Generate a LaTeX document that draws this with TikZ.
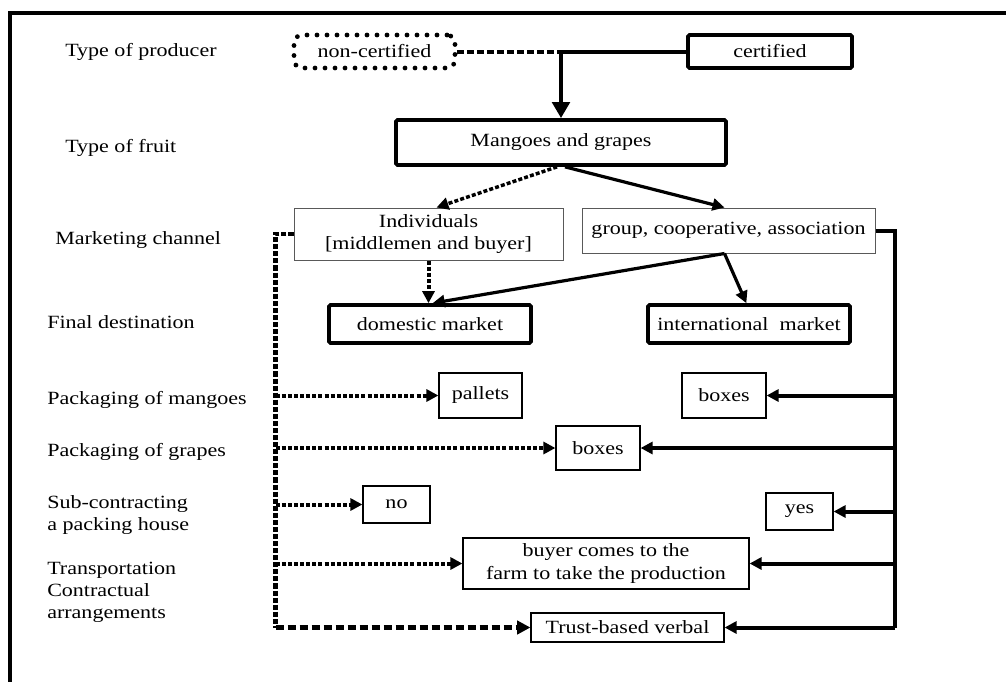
\documentclass[tikz,border=0pt]{standalone}
\usepackage{fontspec}
\setmainfont{Liberation Serif}[FakeStretch=1.18]
\usetikzlibrary{arrows.meta}

\begin{document}
\begin{tikzpicture}
  [x=0.75pt,y=-0.75pt,every node/.style={font=\fontsize{14}{17}\selectfont,inner sep=0pt}]
  \tikzstyle{tag} = [anchor=west,align=left]
  \tikzstyle{thin} = [draw,line width=0.9pt,align=center]
  \tikzstyle{pale} = [draw=black!65,line width=0.75pt,align=center]
  \tikzstyle{heavy} = [draw,line width=2.8pt,rounded corners=1.2pt]
  \tikzstyle{dotbox} = [draw,line width=3.6pt,line cap=round,dash pattern=on 0pt off 7.5pt,rounded corners=6pt]
  \tikzstyle{solidarrow} = [line width=3pt,-{Triangle[length=9pt,width=9pt]}]
  \tikzstyle{dotarrow} = [line width=3pt,dash pattern=on 3pt off 1.6pt,-{Triangle[length=9pt,width=9pt]}]
  \useasboundingbox (0,0) rectangle (1006,682);
  \draw[line width=2.3pt] (1006,13) -- (10,13) -- (10,682);

  % row labels
  \node[tag] (lprod)  at (65,52)  {Type of producer};
  \node[tag] (lfruit) at (65,148) {Type of fruit};
  \node[tag] (lchan)  at (55,240) {Marketing channel};
  \node[tag] (ldest)  at (47,322) {Final destination};
  \node[tag] (lmango) at (47,400) {Packaging of mangoes};
  \node[tag] (lgrape) at (47,452) {Packaging of grapes};
  \node[tag] (lsub)   at (47,515) {Sub-contracting\\a packing house};
  \node[tag] (ltrans) at (47,570) {Transportation};
  \node[tag] (lcontr) at (47,603) {Contractual\\arrangements};

  % boxes
  \node[dotbox,minimum width=120.75pt,minimum height=24.75pt] (noncert) at (374.5,51.5) {non-certified};
  \node[heavy,minimum width=123pt,minimum height=24.75pt] (cert) at (770,51.5) {certified};
  \node[heavy,minimum width=247.5pt,minimum height=33.75pt] (fruit) at (561,142.5) {Mangoes and grapes};
  \node[pale,minimum width=201.75pt,minimum height=39pt] (indiv) at (428.5,234) {Individuals\\{[middlemen and buyer]}};
  \node[pale,minimum width=219.75pt,minimum height=33.75pt] (group) at (728.5,230.5) {group, cooperative, association};
  \node[heavy,minimum width=151.5pt,minimum height=28.5pt] (domestic) at (430,324) {domestic market};
  \node[heavy,minimum width=151.5pt,minimum height=28.5pt] (intl) at (749,324) {international\ \ market};
  \node[thin,minimum width=62.25pt,minimum height=33.75pt] (pallets) at (480.5,395.5) {pallets};
  \node[thin,minimum width=63pt,minimum height=33.75pt] (boxesM) at (724,395.5) {boxes};
  \node[thin,minimum width=63pt,minimum height=33pt] (boxesG) at (598,448) {boxes};
  \node[thin,minimum width=50.25pt,minimum height=27.75pt] (no) at (396.5,504.5) {no};
  \node[thin,minimum width=50.25pt,minimum height=27.75pt] (yes) at (799.5,511.5) {yes};
  \node[thin,minimum width=214.5pt,minimum height=38.25pt] (buyer) at (606,563.5) {buyer comes to the\\farm to take the production};
  \node[thin,minimum width=144.75pt,minimum height=21.75pt] (trust) at (627.5,627.5) {Trust-based verbal};

  % producer to fruit
  \draw[line width=3pt,dash pattern=on 5pt off 2.5pt] (noncert.east) -- (noncert.east -| fruit.north);
  \draw[line width=3pt,-{Triangle[length=12pt,width=13pt]}] (cert.west) -| (fruit.north);

  % fruit to channels and markets
  \draw[dotarrow,line width=2.6pt] ([xshift=-3pt]fruit.south) -- ([xshift=6pt]indiv.north);
  \draw[solidarrow,line width=2.4pt] ([xshift=3pt]fruit.south) -- ([xshift=-3pt]group.north);
  \draw[dotarrow] (indiv.south) -- (indiv.south |- domestic.north);
  \draw[solidarrow,line width=2.4pt] ([xshift=-3pt]group.south) -- ([xshift=2pt]domestic.north);
  \draw[solidarrow,line width=2.4pt] ([xshift=-3pt]group.south) -- ([xshift=-2pt]intl.north);

  % individuals side
  \draw[line width=3.4pt,dash pattern=on 3.8pt off 1.5pt] (indiv.west) -- ++(-18,0) coordinate (lbus) -- (lbus |- trust.west) coordinate (lend);
  \draw[line width=3.2pt,dash pattern=on 6pt off 3pt,-{Triangle[length=10pt,width=10pt]}] (lend) -- (trust.west);
\foreach \dest in {pallets,boxesG,no,buyer}
   \draw[dotarrow] (lbus |- \dest.west) -- (\dest.west);

  % group side
  \draw[line width=3pt] (group.east) -- ++(19,0) coordinate (rbus) -- (rbus |- trust.east) coordinate (rend);
  \draw[solidarrow] (rend) -- (trust.east);
\foreach \dest in {boxesM,boxesG,yes,buyer}
   \draw[solidarrow] (rbus |- \dest.east) -- (\dest.east);

\end{tikzpicture}
\end{document}
